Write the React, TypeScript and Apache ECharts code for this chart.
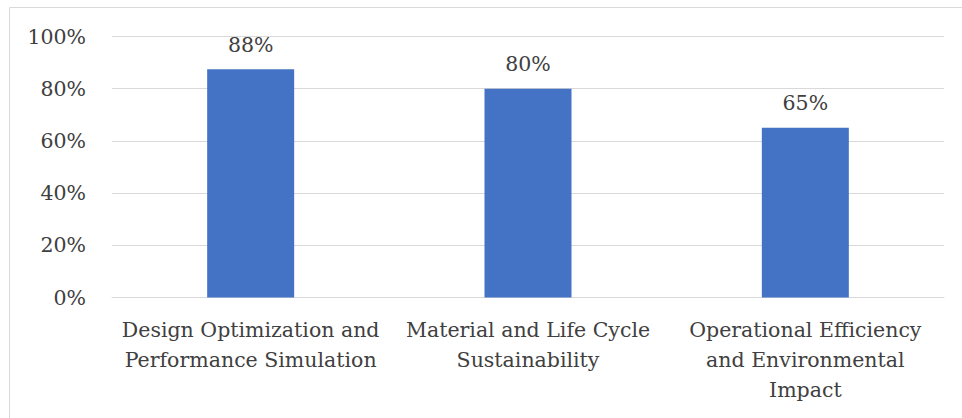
import React, { useEffect, useRef } from "react";
import * as echarts from "echarts";

const categories = [
  "Design Optimization and\nPerformance Simulation",
  "Material and Life Cycle\nSustainability",
  "Operational Efficiency\nand Environmental\nImpact",
];
const values = [87.5, 80, 65];
const yTicks = [0, 20, 40, 60, 80, 100];

const FONT = "DejaVu Serif";
const FS = 20.5;
const TEXT = "#404040";

export default function App() {
  const ref = useRef<HTMLDivElement>(null);
  useEffect(() => {
    document.body.style.margin = "0";
    const chart = echarts.init(ref.current!, null, { renderer: "svg" });
    chart.setOption({
      animation: false,
      backgroundColor: "#ffffff",
      textStyle: { fontFamily: FONT },
      graphic: [
        {
          type: "rect",
          shape: { x: 9.5, y: 7.5, width: 1000, height: 500 },
          style: { fill: "none", stroke: "#d9d9d9", lineWidth: 1 },
          silent: true,
        },
      ],
      grid: { left: 112, right: 18, top: 36.5, bottom: 120.5 },
      xAxis: {
        type: "category",
        data: categories,
        axisLine: { lineStyle: { color: "#d9d9d9", width: 1 } },
        axisTick: { show: false },
        axisLabel: {
          interval: 0,
          color: TEXT,
          fontFamily: FONT,
          fontSize: FS,
          lineHeight: 30,
          margin: 17,
          align: "center",
        },
      },
      yAxis: {
        type: "value",
        min: yTicks[0],
        max: yTicks[yTicks.length - 1],
        interval: 20,
        axisLine: { show: false },
        axisTick: { show: false },
        splitLine: { lineStyle: { color: "#d9d9d9", width: 1 } },
        axisLabel: {
          color: TEXT,
          fontFamily: FONT,
          fontSize: FS,
          margin: 26,
          formatter: (v: number) => `${v}%`,
        },
      },
      series: [
        {
          type: "bar",
          data: values,
          barWidth: 87,
          itemStyle: { color: "#4472c4" },
          label: {
            show: true,
            position: "top",
            distance: 14,
            color: TEXT,
            fontFamily: FONT,
            fontSize: FS,
            formatter: (p: any) => `${Math.round(p.value)}%`,
          },
        },
      ],
    });
    return () => chart.dispose();
  }, []);
  return <div ref={ref} style={{ width: 962, height: 418 }} />;
}
